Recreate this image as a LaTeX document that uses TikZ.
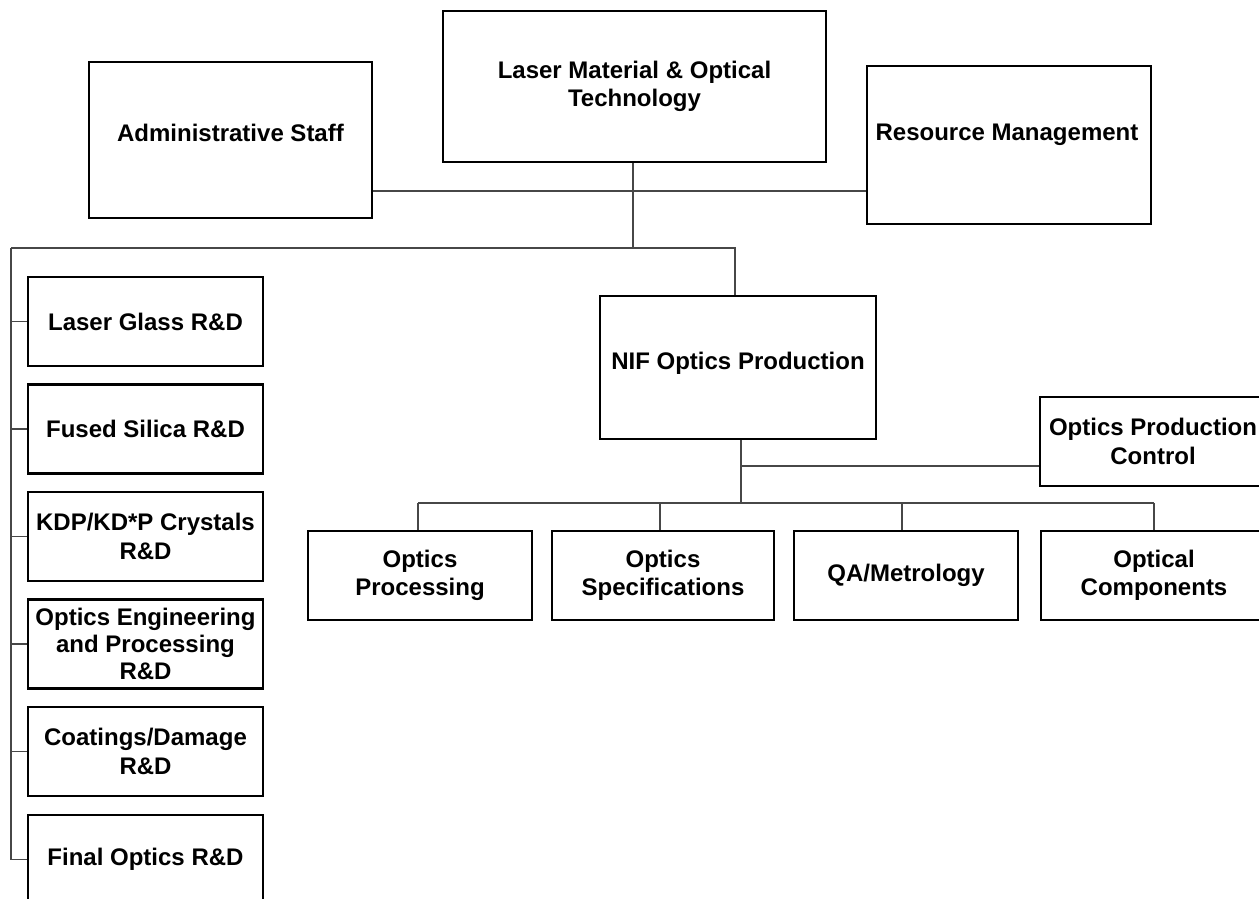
\documentclass[tikz,border=0pt]{standalone}
\usepackage{fontspec}
\setmainfont{Liberation Sans}
\begin{document}
\begin{tikzpicture}[x=1pt,y=-1pt,
  orgbox/.style={draw=black, line width=2.5pt, fill=white, inner sep=0pt,
    align=center, font=\fontsize{24}{28.5}\selectfont\bfseries},
  lefttbox/.style={orgbox, minimum width=235pt, minimum height=89pt},
  lowbox/.style={orgbox, minimum height=89pt},
  lbl/.style={inner sep=0pt, align=center, font=\fontsize{24}{28.5}\selectfont\bfseries},
  wire/.style={draw=black!72, line width=1.3pt}]
\useasboundingbox (0,0) rectangle (1259,899);
\clip (0,0) rectangle (1259,899);

% junction points of the connector lines
\coordinate (staffline) at (633,191);
\coordinate (bus) at (11,248);
\coordinate (ctl) at (741,466);
\coordinate (bar) at (741,503);

% top level
\node[orgbox, minimum width=383pt, minimum height=151pt] (lmot) at (634.5,86.5)
  {Laser Material \& Optical\\Technology};
\node[orgbox, minimum width=283pt, minimum height=156pt] (admin) at (230.5,140) {};
\node[lbl] (admin-t) at (230.5,133) {Administrative Staff};
\node[orgbox, minimum width=284pt, minimum height=158pt] (res) at (1009,145) {};
\node[lbl] (res-t) at (1007,135) {Resource Management};

% research and development column
\node[lefttbox] (lg)  at (145.5,321.5) {Laser Glass R\&D};
\node[lefttbox] (fs)  at (145.5,429)   {Fused Silica R\&D};
\node[lefttbox] (kdp) at (145.5,536.5) {KDP/KD*P Crystals\\R\&D};
\node[lefttbox, font=\fontsize{24}{27}\selectfont\bfseries] (oe) at (145.5,644)
  {Optics Engineering\\and Processing\\R\&D};
\node[lefttbox] (cd)  at (145.5,751.5) {Coatings/Damage\\R\&D};
\node[lefttbox] (fin) at (145.5,859.5) {Final Optics R\&D};

% production branch
\node[orgbox, minimum width=276pt, minimum height=143pt] (nif) at (738,367.5) {};
\node[lbl] (nif-t) at (738,363) {NIF Optics Production};
\node[lowbox, minimum width=226pt] (opc) at (1153,441.5) {Optics Production\\Control};

\node[lowbox, minimum width=224pt] (op) at (420,575.5) {Optics\\Processing};
\node[lowbox, minimum width=222pt] (os) at (663,575.5) {Optics\\Specifications};
\node[lowbox, minimum width=224pt] (qa) at (906,575.5) {QA/Metrology};
\node[lowbox, minimum width=226pt] (oc) at (1154,575.5) {Optical\\Components};

% connectors
\draw[wire] (admin.east |- staffline) -- (res.west |- staffline);
\draw[wire] ([xshift=-1.5pt]lmot.south) -- ([xshift=-1.5pt]lmot.south |- bus);
\draw[wire] (bus) -- ([xshift=-3pt]nif.north |- bus) -- ([xshift=-3pt]nif.north);
\draw[wire] (bus) |- (fin.west);
\foreach \b in {lg,fs,kdp,oe,cd}
  \draw[wire] (bus |- \b.west) -- (\b.west);

\draw[wire] ([xshift=3pt]nif.south) -- (bar);
\draw[wire] (ctl) -- (opc.west |- ctl);
\draw[wire] ([xshift=-2pt]op.north |- bar) -- (oc.north |- bar);
\draw[wire] ([xshift=-2pt]op.north |- bar) -- ([xshift=-2pt]op.north);
\draw[wire] ([xshift=-3pt]os.north |- bar) -- ([xshift=-3pt]os.north);
\draw[wire] ([xshift=-4pt]qa.north |- bar) -- ([xshift=-4pt]qa.north);
\draw[wire] (oc.north |- bar) -- (oc.north);
\end{tikzpicture}
\end{document}
